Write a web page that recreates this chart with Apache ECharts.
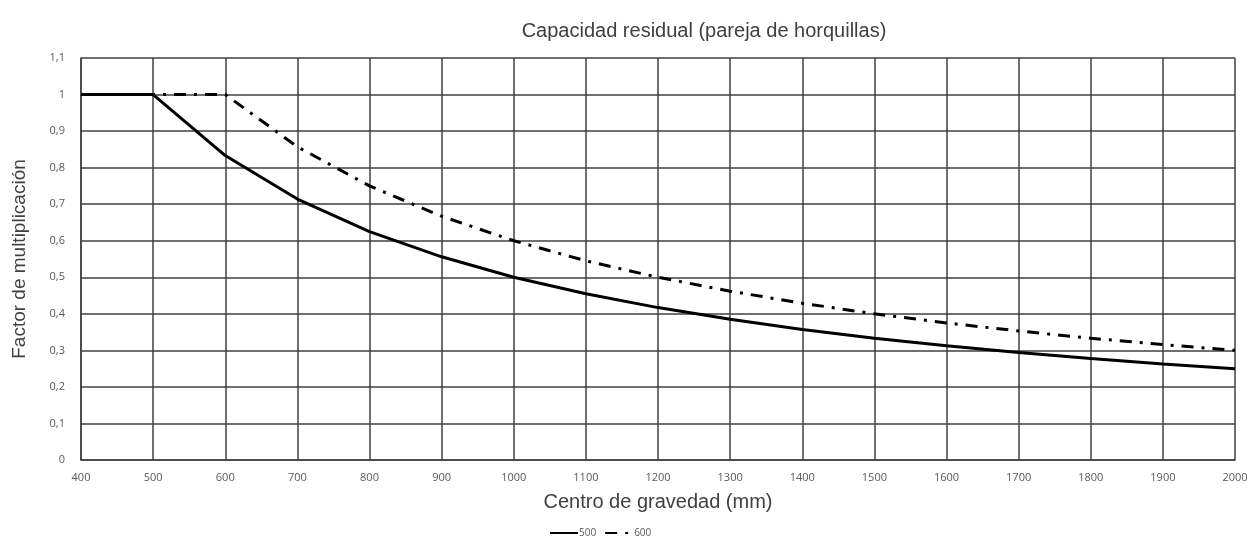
<!DOCTYPE html>
<html><head><meta charset="utf-8">
<script src="https://cdn.jsdelivr.net/npm/echarts@6/dist/echarts.min.js"></script>
<style>html,body{margin:0;padding:0;background:#fff}#c{width:1255px;height:547px}</style>
</head><body><div id="c"></div>
<script>
const xValues = [400, 500, 600, 700, 800, 900, 1000, 1100, 1200, 1300, 1400, 1500, 1600, 1700, 1800, 1900, 2000];
const series500 = [1, 1, 0.833, 0.714, 0.625, 0.556, 0.5, 0.455, 0.417, 0.385, 0.357, 0.333, 0.3125, 0.294, 0.278, 0.263, 0.25];
const series600 = [1, 1, 1, 0.857, 0.75, 0.667, 0.6, 0.545, 0.5, 0.462, 0.429, 0.4, 0.375, 0.353, 0.333, 0.316, 0.3];
const seriesNames = ['500', '600'];
const titleText = 'Capacidad residual (pareja de horquillas)';
const xName = 'Centro de gravedad (mm)';
const yName = 'Factor de multiplicación';

const chart = echarts.init(document.getElementById('c'));
const font = 'Liberation Sans, Arial, sans-serif';
const labFont = 'Open Sans, sans-serif';
const grid = '#404040';
chart.setOption({
  animation: false,
  backgroundColor: '#fff',
  title: { text: titleText, left: 699, top: 16, textAlign: 'center',
    textStyle: { fontFamily: font, fontSize: 20, fontWeight: 'normal', color: '#404040' } },
  grid: { left: 81, right: 20, top: 58, bottom: 87, outerBoundsMode: 'none', containLabel: false },
  legend: { bottom: 4, left: 544, itemWidth: 28, itemHeight: 10, itemGap: 8,
    itemStyle: { opacity: 0 },
    textStyle: { fontFamily: labFont, fontSize: 10, color: '#595959', padding: [0,0,0,-4] },
    data: seriesNames },
  xAxis: { type: 'value', min: 400, max: 2000, interval: 100,
    name: xName, nameLocation: 'middle', nameGap: 32,
    nameTextStyle: { fontFamily: font, fontSize: 20, color: '#404040' },
    axisLine: { show: true, lineStyle: { color: grid, width: 1.5 } },
    axisTick: { show: false },
    axisLabel: { fontFamily: labFont, fontSize: 11, color: '#595959', margin: 12, formatter: v => String(v) },
    splitLine: { show: true, lineStyle: { color: grid, width: 1.5 } } },
  yAxis: { type: 'value', min: 0, max: 1.1, interval: 0.1,
    name: yName, nameLocation: 'middle', nameGap: 52,
    nameTextStyle: { fontFamily: font, fontSize: 19, color: '#404040' },
    axisLine: { show: true, lineStyle: { color: grid, width: 1.5 } },
    axisTick: { show: false },
    axisLabel: { fontFamily: labFont, fontSize: 11, color: '#595959', margin: 16,
      formatter: v => String(Math.round(v * 10) / 10).replace('.', ',') },
    splitLine: { show: true, lineStyle: { color: grid, width: 1.5 } } },
  series: [
    { name: seriesNames[0], type: 'line', symbol: 'none', smooth: false,
      data: xValues.map((x, i) => [x, series500[i]]),
      lineStyle: { color: '#000', width: 3 }, itemStyle: { color: '#000' }, z: 3 },
    { name: seriesNames[1], type: 'line', symbol: 'none', smooth: false,
      data: xValues.map((x, i) => [x, series600[i]]),
      lineStyle: { color: '#000', width: 3, type: [12, 8, 3, 8] }, itemStyle: { color: '#000' }, z: 4 }
  ]
});
</script></body></html>
